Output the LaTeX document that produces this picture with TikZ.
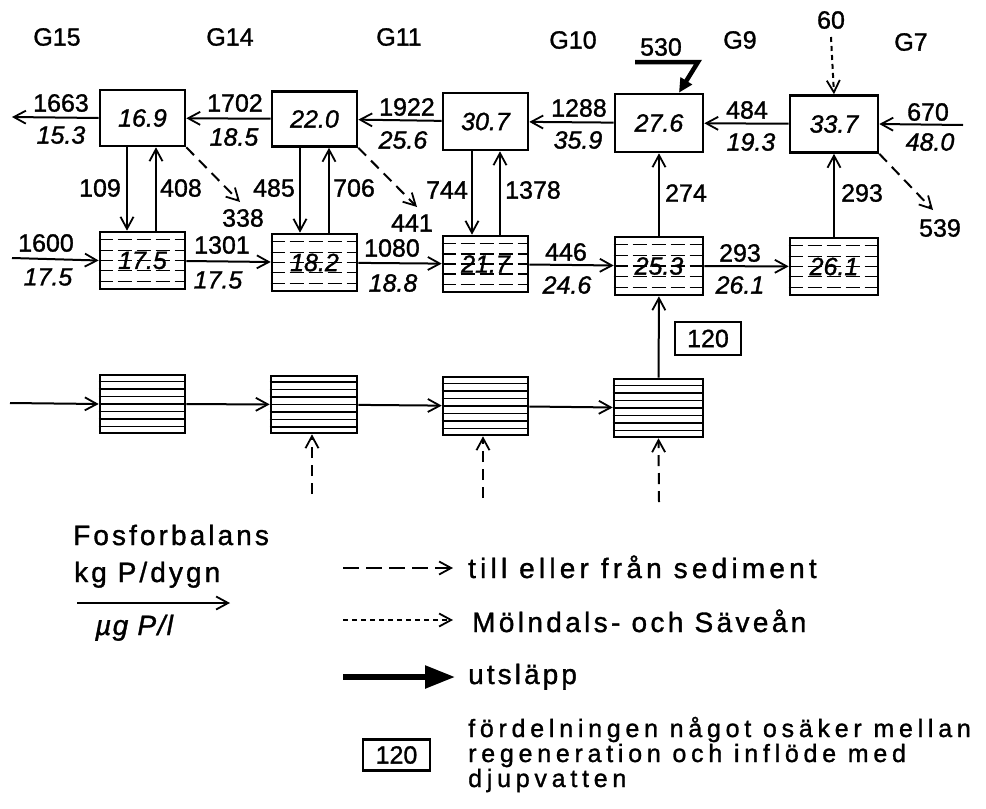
\documentclass[tikz,border=0pt]{standalone}
\usepackage{fontspec}
\setmainfont{Liberation Sans}[FakeBold=1.2]
\newfontfamily\legfont[LetterSpace=11,FakeBold=1.2]{Liberation Sans}
\newcommand\numfont{\fontsize{25}{28}\selectfont}
\newcommand\legsize{\fontsize{28}{25}\selectfont}
\newcommand\parsize{\fontsize{25}{25}\selectfont}
\usetikzlibrary{arrows.meta,calc}
\begin{document}
\begin{tikzpicture}[x=1pt,y=-1pt]
\useasboundingbox (0,0) rectangle (986,809);
\tikzset{
 bx/.style={draw,line width=2.6pt,inner sep=0pt,font=\numfont\itshape},
 lbl/.style={font=\numfont,inner sep=0pt},
 lbli/.style={font=\numfont\itshape,inner sep=0pt},
 flow/.style={line width=2pt,-{Straight Barb[length=12pt,width=13pt,line width=1.8pt]}},
 sed/.style={flow,dash pattern=on 11pt off 7pt},
 riv/.style={flow,dash pattern=on 5pt off 4pt},
 hatchd/.style={line width=1.1pt,dash pattern=on 14pt off 5pt},
 hatchs/.style={line width=1.4pt},
 leg/.style={font=\legsize\legfont,inner sep=0pt,anchor=base west},
 legp/.style={font=\parsize\legfont\addfontfeature{LetterSpace=19},inner sep=0pt,anchor=base west},
}
% ---------- column headers
\node[lbl] (g15) at (57,37) {G15};
\node[lbl] (g14) at (230,37) {G14};
\node[lbl] (g11) at (399,37) {G11};
\node[lbl] (g10) at (573,40) {G10};
\node[lbl] (g9) at (740,40) {G9};
\node[lbl] (g7) at (911,42) {G7};
% ---------- top boxes
\node[bx,minimum width=85pt,minimum height=56pt] (t1) at (142.5,118) {16.9};
\node[bx,minimum width=85pt,minimum height=55pt] (t2) at (314.5,119) {22.0};
\node[bx,minimum width=85pt,minimum height=57pt] (t3) at (485.5,121.5) {30.7};
\node[bx,minimum width=88pt,minimum height=58pt] (t4) at (659,123) {27.6};
\node[bx,minimum width=88pt,minimum height=57pt] (t5) at (834,124) {33.7};
% ---------- middle boxes
\node[bx,minimum width=85pt,minimum height=57pt] (m1) at (142.5,260.5) {17.5};
\node[bx,minimum width=85pt,minimum height=57pt] (m2) at (314.5,262.5) {18.2};
\node[bx,minimum width=85pt,minimum height=56pt] (m3) at (485.5,264) {21.7};
\node[bx,minimum width=88pt,minimum height=58pt] (m4) at (659,266) {25.3};
\node[bx,minimum width=88pt,minimum height=57pt] (m5) at (834,266.5) {26.1};
% ---------- bottom boxes
\node[bx,minimum width=85pt,minimum height=58pt] (b1) at (142.5,404) {};
\node[bx,minimum width=86pt,minimum height=57pt] (b2) at (314,404.5) {};
\node[bx,minimum width=85pt,minimum height=58pt] (b3) at (485.5,406) {};
\node[bx,minimum width=89pt,minimum height=58pt] (b4) at (658.5,408) {};
% hatching
\foreach \n in {m1,m2,m3,m4,m5}{
  \foreach \f in {0.15,0.33,0.5,0.67,0.85}{
    \draw[hatchd] ($(\n.south west)!\f!(\n.north west)$) -- ($(\n.south east)!\f!(\n.north east)$);
  }
}
\foreach \n in {b1,b2,b3,b4}{
  \foreach \f in {0.125,0.25,0.375,0.5,0.625,0.75,0.875}{
    \draw[hatchs] ($(\n.south west)!\f!(\n.north west)$) -- ($(\n.south east)!\f!(\n.north east)$);
  }
}
% ---------- top row flows (right to left)
\coordinate (outL) at (12,117);
\coordinate (inR) at (963,125);
\draw[flow] (t1.west) -- (outL);
\draw[flow] (t2) -- (t1);
\draw[flow] (t3) -- (t2);
\draw[flow] (t4) -- (t3);
\draw[flow] (t5) -- (t4);
\draw[flow] (inR) -- (t5.east);
\node[lbl] (a1663) at (61,103) {1663};
\node[lbli] (a153) at (61,135) {15.3};
\node[lbl] (a1702) at (235,103) {1702};
\node[lbli] (a185) at (234,137) {18.5};
\node[lbl] (a1922) at (407,107) {1922};
\node[lbli] (a256) at (403,140) {25.6};
\node[lbl] (a1288) at (579,108) {1288};
\node[lbli] (a359) at (578,140) {35.9};
\node[lbl] (a484) at (747,110) {484};
\node[lbli] (a193) at (751,142) {19.3};
\node[lbl] (a670) at (928,112) {670};
\node[lbli] (a480) at (930,142) {48.0};
% ---------- middle row flows (left to right)
\coordinate (inL) at (12,258);
\draw[flow] (inL) -- (m1.west);
\draw[flow] (m1) -- (m2);
\draw[flow] (m2) -- (m3);
\draw[flow] (m3) -- (m4);
\draw[flow] (m4) -- (m5);
\node[lbl] (c1600) at (46,243) {1600};
\node[lbli] (c175a) at (48,277) {17.5};
\node[lbl] (c1301) at (222,245) {1301};
\node[lbli] (c175b) at (218,280) {17.5};
\node[lbl] (c1080) at (392,248) {1080};
\node[lbli] (c188) at (393,283) {18.8};
\node[lbl] (c446) at (566,252) {446};
\node[lbli] (c246) at (567,285) {24.6};
\node[lbl] (c293) at (740,253) {293};
\node[lbli] (c261) at (740,285) {26.1};
% ---------- vertical exchanges
\draw[flow] ([xshift=-15.5pt]t1.south) -- ([xshift=-15.5pt]m1.north);
\draw[flow] ([xshift=13.5pt]m1.north) -- ([xshift=13.5pt]t1.south);
\draw[flow] ([xshift=-14.5pt]t2.south) -- ([xshift=-14.5pt]m2.north);
\draw[flow] ([xshift=14.5pt]m2.north) -- ([xshift=14.5pt]t2.south);
\draw[flow] ([xshift=-13.5pt]t3.south) -- ([xshift=-13.5pt]m3.north);
\draw[flow] ([xshift=14.5pt]m3.north) -- ([xshift=14.5pt]t3.south);
\draw[flow] (m4) -- (t4);
\draw[flow] (m5) -- (t5);
\node[lbl] (v109) at (100,188) {109};
\node[lbl] (v408) at (181,188) {408};
\node[lbl] (v485) at (274,188) {485};
\node[lbl] (v706) at (354,188) {706};
\node[lbl] (v744) at (447,190) {744};
\node[lbl] (v1378) at (533,190) {1378};
\node[lbl] (v274) at (686,193) {274};
\node[lbl] (v293) at (862,193) {293};
% ---------- sediment arrows
\coordinate (s338) at (240,202);
\coordinate (s441) at (417,207);
\coordinate (s539) at (933,210);
\draw[sed] (t1.south east) -- (s338);
\draw[sed] (t2.south east) -- (s441);
\draw[sed] (t5.south east) -- (s539);
\node[lbl] (n338) at (243,218) {338};
\node[lbl] (n441) at (412,223) {441};
\node[lbl] (n539) at (940,228) {539};
% ---------- river inflow 60
\node[lbl] (n60) at (831,20) {60};
\coordinate (r60) at (831,37);
\draw[riv] (r60) -- (t5.north);
% ---------- discharge 530
\node[lbl] (n530) at (661,47) {530};
\coordinate (d1) at (635,62);
\coordinate (d2) at (698,62);
\draw[line width=4.5pt,-{Triangle[length=14pt,width=13pt]}] (d1) -- (d2) -- ([xshift=20pt]t4.north);
% ---------- bottom row flows
\coordinate (inB) at (10,403);
\draw[flow] (inB) -- (b1.west);
\draw[flow] (b1) -- (b2);
\draw[flow] (b2) -- (b3);
\draw[flow] (b3) -- (b4);
\draw[flow] (b4) -- (m4);
\node[draw,line width=2.2pt,font=\numfont,minimum width=66pt,minimum height=33pt,inner sep=0pt] (q120) at (708,338.5) {120};
\coordinate (u2) at (312,494);
\coordinate (u3) at (483,498);
\coordinate (u4) at (659,502);
\draw[sed] (u2) -- (u2 |- b2.south);
\draw[sed] (u3) -- (u3 |- b3.south);
\draw[sed] (u4) -- (b4.south);
% ---------- legend
\node[leg] (lfos) at (73,545) {Fosforbalans};
\node[leg] (lkg) at (74,582) {kg P/dygn};
\coordinate (la1) at (77,603);
\coordinate (la2) at (230,603);
\draw[flow] (la1) -- (la2);
\node[leg,font=\legsize\itshape\addfontfeature{LetterSpace=5}] (lug) at (95,635) {µg P/l};
\coordinate (k1a) at (343,568);
\coordinate (k1b) at (453,568);
\draw[flow,dash pattern=on 16pt off 7pt] (k1a) -- (k1b);
\node[leg,font=\legsize\legfont\addfontfeature{LetterSpace=15}] (k1t) at (468,578) {till eller från sediment};
\coordinate (k2a) at (343,620);
\coordinate (k2b) at (453,620);
\draw[riv] (k2a) -- (k2b);
\node[leg,font=\legsize\legfont\addfontfeature{LetterSpace=12}] (k2t) at (472,632) {Mölndals- och Säveån};
\coordinate (k3a) at (343,677);
\coordinate (k3b) at (455,677);
\draw[line width=5.5pt,-{Triangle[length=30pt,width=22pt]}] (k3a) -- (k3b);
\node[leg] (k3t) at (468,684) {utsläpp};
\node[draw,line width=2.2pt,font=\numfont,minimum width=67pt,minimum height=31pt,inner sep=0pt] (k4b) at (396.5,755) {120};
\node[legp] (k4t1) at (468,737) {fördelningen något osäker mellan};
\node[legp] (k4t2) at (468,762) {regeneration och inflöde med};
\node[legp] (k4t3) at (468,787) {djupvatten};
\end{tikzpicture}
\end{document}
